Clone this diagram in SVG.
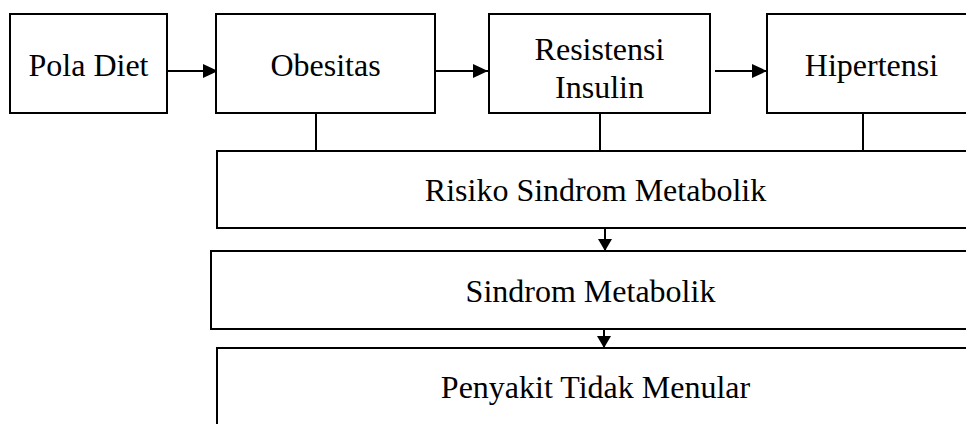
<svg xmlns="http://www.w3.org/2000/svg" width="966" height="424" viewBox="0 0 966 424">
<defs>
<style>
.box{fill:#fff;stroke:#000;stroke-width:2}
.ln{stroke:#000;stroke-width:2;fill:none}
</style>
<marker id="ah" markerUnits="userSpaceOnUse" markerWidth="15" markerHeight="14" refX="15" refY="7" orient="auto">
<path d="M0,0 L15,7 L0,14 z" fill="#000"/>
</marker>
<marker id="av" markerUnits="userSpaceOnUse" markerWidth="12" markerHeight="14" refX="12" refY="7" orient="auto">
<path d="M0,0 L12,7 L0,14 z" fill="#000"/>
</marker>
</defs>
<rect width="966" height="424" fill="#fff"/>
<g id="connectors">
<line class="ln" x1="316" y1="113" x2="316" y2="151"/>
<line class="ln" x1="600" y1="113" x2="600" y2="151"/>
<line class="ln" x1="863" y1="113" x2="863" y2="151"/>
<line class="ln" x1="168" y1="71" x2="218" y2="71" marker-end="url(#ah)"/>
<line class="ln" x1="435" y1="71" x2="488" y2="71" marker-end="url(#ah)"/>
<line class="ln" x1="715" y1="71" x2="767" y2="71" marker-end="url(#ah)"/>
<line class="ln" x1="605" y1="228" x2="605" y2="251" marker-end="url(#av)"/>
<line class="ln" x1="604" y1="329" x2="604" y2="348" marker-end="url(#av)"/>
</g>
<g font-family="Liberation Serif, DejaVu Serif, serif" font-size="32" fill="#000" text-anchor="middle">
<g id="pola-diet">
<rect class="box" x="10" y="14" width="157" height="99"/>
<text x="88.5" y="76">Pola Diet</text>
</g>
<g id="obesitas">
<rect class="box" x="216" y="14" width="219" height="99"/>
<text x="325.5" y="76">Obesitas</text>
</g>
<g id="resistensi-insulin">
<rect class="box" x="489" y="14" width="221" height="99"/>
<text x="599.5" y="59.5">Resistensi</text>
<text x="599.5" y="98">Insulin</text>
</g>
<g id="hipertensi">
<rect class="box" x="767" y="14" width="215" height="99"/>
<text x="871.5" y="76">Hipertensi</text>
</g>
<g id="risiko">
<rect class="box" x="217" y="151" width="760" height="77"/>
<text x="595.5" y="201">Risiko Sindrom Metabolik</text>
</g>
<g id="sindrom">
<rect class="box" x="211" y="251" width="760" height="78"/>
<text x="590.5" y="302">Sindrom Metabolik</text>
</g>
<g id="penyakit">
<rect class="box" x="217" y="348" width="760" height="90"/>
<text x="595.5" y="398">Penyakit Tidak Menular</text>
</g>
</g>
</svg>
